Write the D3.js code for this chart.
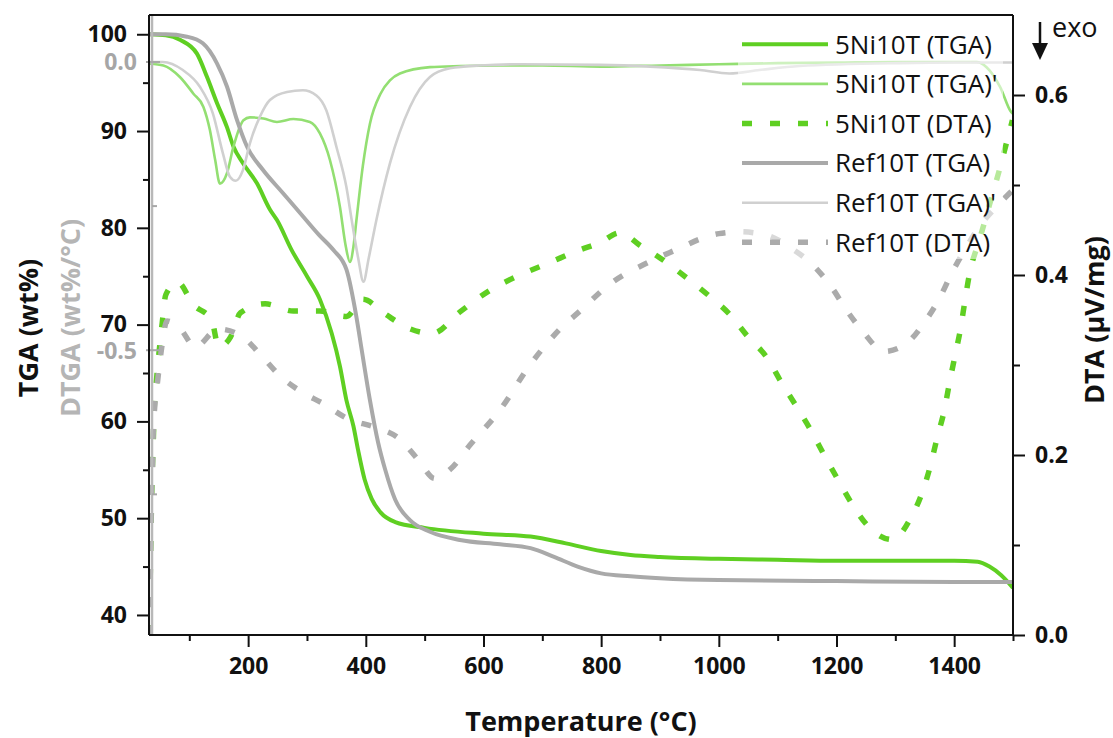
<!DOCTYPE html>
<html>
<head>
<meta charset="utf-8">
<script src="https://cdn.jsdelivr.net/npm/d3@7"></script>
<style>
  body { margin: 0; background: #fff; }
  text { font-family: "Open Sans", sans-serif; }
</style>
</head>
<body>
<svg id="chart" width="1113" height="738"></svg>
<script>
// 数据: [温度 °C, 数值]
const niTga = [[33,100],[60,99.9],[85,99.4],[113,98.0],[130,95.6],[147,92.9],[164,90.4],[175,88.4],[191,86.7],[215,84.6],[237,81.9],[249,80.8],[274,77.7],[300,75.0],[322,72.6],[342,69.1],[356,65.7],[367,62.2],[379,59.5],[387,57.0],[398,54.0],[410,52.0],[425,50.6],[450,49.6],[500,49.0],[600,48.4],[680,48.1],[740,47.4],[800,46.6],[850,46.2],[900,46.0],[1000,45.8],[1100,45.7],[1200,45.6],[1300,45.6],[1400,45.6],[1440,45.5],[1460,45.0],[1480,44.1],[1500,42.8]];
const niDtg = [[33,-0.003],[56,-0.006],[84,-0.026],[107,-0.055],[124,-0.078],[135,-0.118],[144,-0.17],[152,-0.211],[164,-0.193],[175,-0.147],[192,-0.101],[203,-0.096],[226,-0.098],[249,-0.104],[277,-0.099],[305,-0.104],[322,-0.124],[339,-0.17],[356,-0.251],[366,-0.32],[373,-0.347],[379,-0.32],[384,-0.275],[395,-0.18],[407,-0.107],[425,-0.055],[441,-0.032],[458,-0.02],[509,-0.009],[560,-0.007],[628,-0.006],[700,-0.006],[800,-0.008],[900,-0.006],[1000,-0.004],[1100,-0.002],[1200,-0.001],[1300,0],[1400,0],[1438,0],[1455,-0.009],[1478,-0.043],[1497,-0.087],[1500,-0.09]];
const niDta = [[32,0],[33.5,0.06],[35,0.12],[37,0.18],[39,0.22],[40.5,0.254],[44.6,0.286],[49,0.317],[54,0.347],[60,0.378],[80,0.392],[107,0.367],[138,0.35],[150,0.32],[170,0.331],[187,0.358],[229,0.368],[277,0.36],[322,0.36],[367,0.354],[395,0.373],[432,0.357],[472,0.341],[513,0.335],[560,0.359],[611,0.383],[662,0.40],[713,0.414],[764,0.428],[798,0.436],[832,0.447],[866,0.433],[900,0.419],[951,0.394],[985,0.376],[1019,0.356],[1050,0.331],[1081,0.309],[1106,0.281],[1132,0.254],[1156,0.228],[1179,0.2],[1203,0.172],[1226,0.146],[1255,0.12],[1295,0.106],[1326,0.13],[1346,0.159],[1360,0.189],[1371,0.219],[1383,0.249],[1392,0.28],[1401,0.309],[1411,0.341],[1418,0.37],[1426,0.401],[1443,0.439],[1460,0.478],[1477,0.517],[1489,0.547],[1499,0.572]];
const refTga = [[33,100],[60,100],[96,99.75],[123,99.07],[147,97.0],[164,94.6],[181,91.15],[198,88.4],[225,86.0],[259,83.6],[293,81.2],[320,79.3],[345,77.7],[367,75.7],[384,70.8],[393,67.4],[407,62.2],[421,57.8],[433,55.0],[450,51.9],[475,49.8],[509,48.6],[560,47.75],[628,47.3],[680,46.9],[720,46.0],[760,45.0],[800,44.3],[850,44.0],[900,43.8],[1000,43.6],[1200,43.5],[1400,43.4],[1500,43.4]];
const refDtg = [[33,0],[55,0],[89,-0.014],[118,-0.043],[140,-0.089],[157,-0.158],[169,-0.199],[179,-0.206],[191,-0.188],[203,-0.141],[220,-0.095],[237,-0.066],[266,-0.052],[293,-0.049],[316,-0.058],[333,-0.084],[350,-0.147],[367,-0.217],[376,-0.274],[387,-0.34],[396,-0.381],[405,-0.34],[418,-0.274],[441,-0.176],[475,-0.078],[509,-0.026],[543,-0.011],[594,-0.006],[662,-0.004],[798,-0.005],[883,-0.008],[968,-0.014],[1018,-0.02],[1069,-0.014],[1137,-0.007],[1307,-0.002],[1400,-0.001],[1500,-0.001]];
const refDta = [[32,0],[33,0.04],[34.4,0.10],[36,0.163],[37.8,0.194],[38.8,0.226],[47,0.287],[53,0.319],[62,0.349],[84,0.341],[110,0.32],[149,0.34],[189,0.332],[223,0.31],[254,0.288],[291,0.27],[328,0.257],[370,0.24],[415,0.231],[455,0.219],[490,0.194],[517,0.174],[545,0.185],[577,0.211],[628,0.25],[679,0.30],[730,0.34],[764,0.36],[815,0.39],[883,0.415],[934,0.43],[968,0.44],[1000,0.446],[1036,0.448],[1083,0.444],[1120,0.431],[1160,0.411],[1191,0.387],[1217,0.361],[1245,0.337],[1281,0.315],[1319,0.324],[1350,0.348],[1375,0.374],[1395,0.401],[1418,0.428],[1443,0.454],[1472,0.476],[1499,0.494]];

// 刻度
const xMajor = [200, 400, 600, 800, 1000, 1200, 1400];
const xMinor = [100, 300, 500, 700, 900, 1100, 1300, 1500];
const tgaMajor = [40, 50, 60, 70, 80, 90, 100];
const tgaMinor = [45, 55, 65, 75, 85, 95];
const dtgMajor = [0, -0.5];
const dtgMinor = [-0.25, -0.75];
const dtaMajor = [0, 0.2, 0.4, 0.6];
const dtaMinor = [0.1, 0.3, 0.5];

const legendNames = ["5Ni10T (TGA)", "5Ni10T (TGA)'", "5Ni10T (DTA)", "Ref10T (TGA)", "Ref10T (TGA)'", "Ref10T (DTA)"];

const svg = d3.select("#chart");
const L = 149, R = 1013, T = 15, B = 635;
const TICK_FONT = 23;

const x = d3.scaleLinear().domain([31.5, 1500]).range([L, R]);
const yTga = d3.scaleLinear().domain([37.93, 101.99]).range([B, T]);
const yDtg = d3.scaleLinear().domain([-0.994, 0.0815]).range([B, T]);
const yDta = d3.scaleLinear().domain([0, 0.6889]).range([B, T]);

const GREEN = "#5fcf22", GREEN_L = "#93df72", GRAY = "#a9a9a9", GRAY_L = "#d0d0d0", GRAY_D = "#ababab";

// 系列样式
const series = [
  { data: niTga, y: yTga, color: GREEN, w: 4, dash: null },
  { data: niDtg, y: yDtg, color: GREEN_L, w: 2.6, dash: null },
  { data: niDta, y: yDta, color: GREEN, w: 5.5, dash: "10,18" },
  { data: refTga, y: yTga, color: GRAY, w: 4, dash: null },
  { data: refDtg, y: yDtg, color: GRAY_L, w: 2.6, dash: null },
  { data: refDta, y: yDta, color: GRAY_D, w: 5.5, dash: "10,18" }
];

svg.append("defs").append("clipPath").attr("id", "clip")
  .append("rect").attr("x", L).attr("y", T).attr("width", R - L).attr("height", B - T);

const plot = svg.append("g").attr("clip-path", "url(#clip)");
series.forEach(s => {
  const line = d3.line().x(d => x(d[0])).y(d => s.y(d[1])).curve(d3.curveMonotoneX);
  plot.append("path")
    .datum(s.data)
    .attr("d", line)
    .attr("fill", "none")
    .attr("stroke", s.color)
    .attr("stroke-width", s.w)
    .attr("stroke-dasharray", s.dash)
    .attr("stroke-linejoin", "round");
});

// 坐标轴
function styleAxis(g) {
  g.select(".domain").remove();
  g.selectAll("line").attr("stroke", "#111").attr("stroke-width", 2);
  g.selectAll("text").attr("fill", "#111").attr("font-size", TICK_FONT).attr("font-weight", "bold")
    .style("font-family", "'Open Sans', sans-serif");
}

svg.append("g").attr("transform", `translate(0,${B})`)
  .call(d3.axisBottom(x).tickValues(xMajor).tickSize(12).tickPadding(11).tickFormat(d3.format("d")))
  .call(styleAxis);
svg.append("g").attr("transform", `translate(0,${B})`)
  .call(d3.axisBottom(x).tickValues(xMinor).tickSize(6).tickFormat(""))
  .call(styleAxis);

svg.append("g").attr("transform", `translate(${L},0)`)
  .call(d3.axisLeft(yTga).tickValues(tgaMajor).tickSize(12).tickPadding(10))
  .call(styleAxis);
svg.append("g").attr("transform", `translate(${L},0)`)
  .call(d3.axisLeft(yTga).tickValues(tgaMinor).tickSize(6).tickFormat(""))
  .call(styleAxis);

svg.append("g").attr("transform", `translate(${R},0)`)
  .call(d3.axisRight(yDta).tickValues(dtaMajor).tickSize(12).tickPadding(10).tickFormat(d3.format(".1f")))
  .call(styleAxis);
svg.append("g").attr("transform", `translate(${R},0)`)
  .call(d3.axisRight(yDta).tickValues(dtaMinor).tickSize(7).tickFormat(""))
  .call(styleAxis);

// DTGA 灰色轴
svg.append("line").attr("x1", 152).attr("x2", 152).attr("y1", T).attr("y2", B)
  .attr("stroke", "#b8b8b8").attr("stroke-width", 2.5);
svg.selectAll(".dtgMaj").data(dtgMajor).enter().append("line")
  .attr("x1", 146).attr("x2", 160).attr("y1", d => yDtg(d)).attr("y2", d => yDtg(d))
  .attr("stroke", "#a8a8a8").attr("stroke-width", 2);
svg.selectAll(".dtgMin").data(dtgMinor).enter().append("line")
  .attr("x1", 152).attr("x2", 157).attr("y1", d => yDtg(d)).attr("y2", d => yDtg(d))
  .attr("stroke", "#a8a8a8").attr("stroke-width", 2);
svg.selectAll(".dtgLab").data(dtgMajor).enter().append("text")
  .attr("x", 137).attr("y", d => yDtg(d)).attr("dy", "0.36em")
  .attr("text-anchor", "end").attr("font-size", TICK_FONT).attr("font-weight", "bold")
  .attr("fill", "#a6a6a6")
  .text(d => d === 0 ? "0.0" : "-0.5");

// 边框
const frame = svg.append("g").attr("stroke", "#111").attr("stroke-width", 2);
frame.append("line").attr("x1", L).attr("x2", R).attr("y1", T).attr("y2", T);
frame.append("line").attr("x1", L).attr("x2", R).attr("y1", B).attr("y2", B);
frame.append("line").attr("x1", L).attr("x2", L).attr("y1", T).attr("y2", B);
frame.append("line").attr("x1", R).attr("x2", R).attr("y1", T).attr("y2", B);

// 轴标题
svg.append("text").attr("x", (L + R) / 2).attr("y", 731).attr("text-anchor", "middle")
  .attr("font-size", 27).attr("font-weight", "bold").attr("fill", "#111").text("Temperature (°C)");
svg.append("text").attr("transform", `translate(38,328) rotate(-90)`).attr("text-anchor", "middle")
  .attr("font-size", 27).attr("font-weight", "bold").attr("fill", "#111").text("TGA (wt%)");
svg.append("text").attr("transform", `translate(80,318) rotate(-90)`).attr("text-anchor", "middle")
  .attr("font-size", 27).attr("font-weight", "bold").attr("fill", "#b5b5b5").text("DTGA (wt%/°C)");
svg.append("text").attr("transform", `translate(1104,320) rotate(-90)`).attr("text-anchor", "middle")
  .attr("font-size", 27).attr("font-weight", "bold").attr("fill", "#111").text("DTA (µV/mg)");

// exo 箭头
svg.append("line").attr("x1", 1040).attr("x2", 1040).attr("y1", 22).attr("y2", 46)
  .attr("stroke", "#111").attr("stroke-width", 2.5);
svg.append("path").attr("d", "M1032,43 L1048,43 L1040,60 Z").attr("fill", "#111");
svg.append("text").attr("x", 1052).attr("y", 37).attr("font-size", 27).attr("fill", "#111").text("exo");

// 图例
svg.append("rect").attr("x", 738).attr("y", 23).attr("width", 265).attr("height", 236)
  .attr("fill", "#fff").attr("opacity", 0.55);
const leg = svg.append("g");
series.forEach((s, i) => {
  const yy = 44.3 + i * 39.6;
  leg.append("line").attr("x1", 742).attr("x2", 828).attr("y1", yy).attr("y2", yy)
    .attr("stroke", s.color).attr("stroke-width", s.w).attr("stroke-dasharray", s.dash);
  leg.append("text").attr("x", 835).attr("y", yy).attr("dy", "0.36em")
    .attr("font-size", 26).attr("fill", "#111").text(legendNames[i]);
});
</script>
</body>
</html>
